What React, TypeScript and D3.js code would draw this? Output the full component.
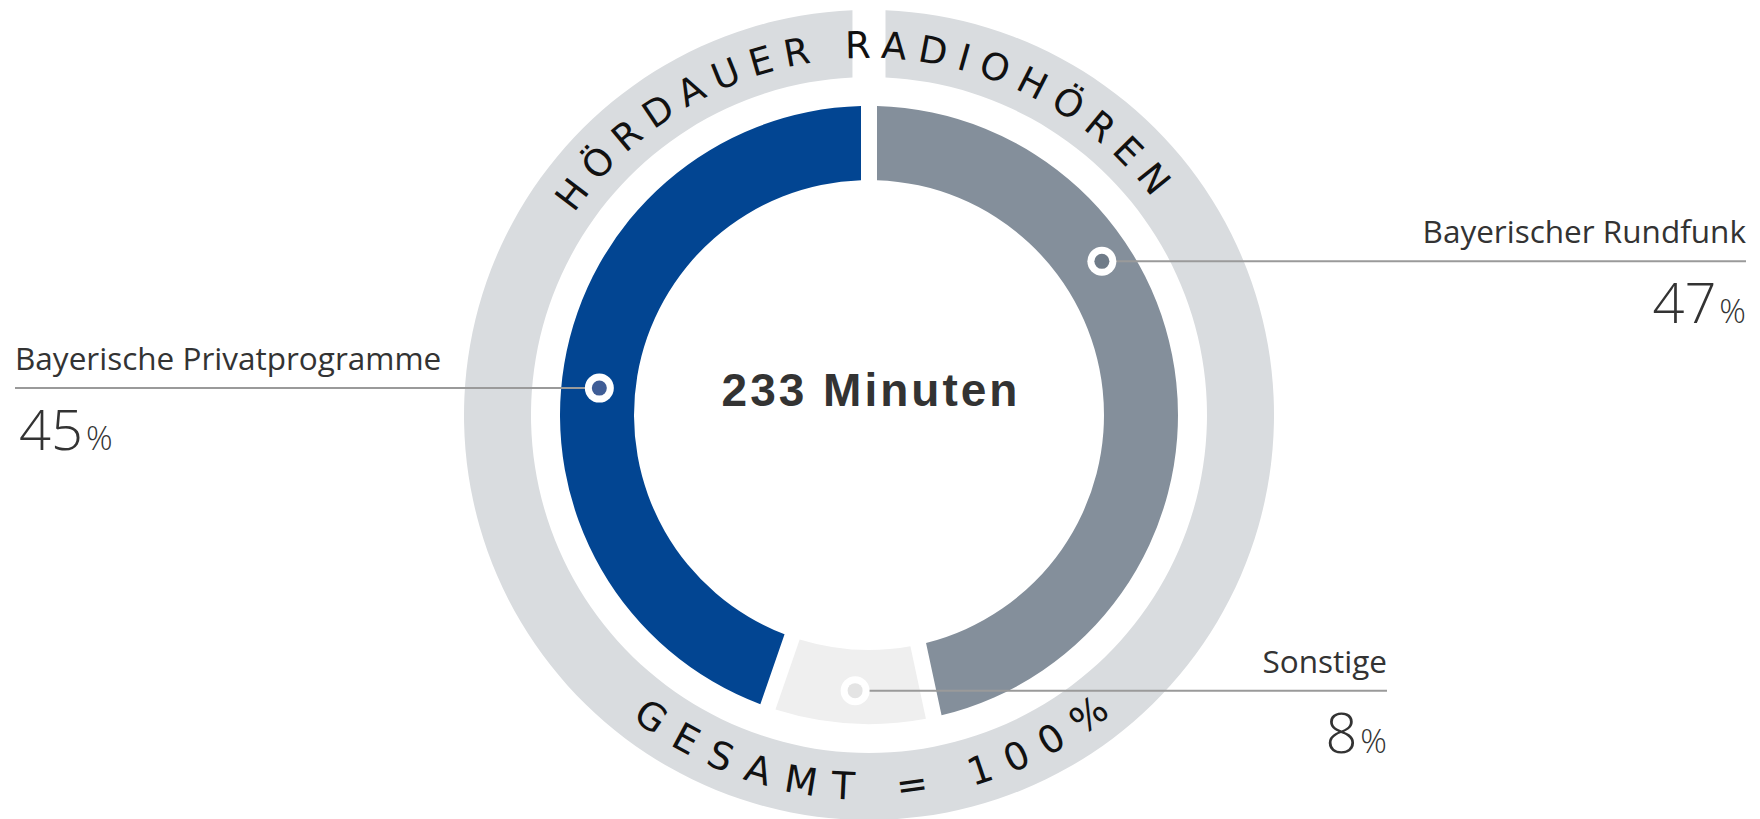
import React from 'react';
import * as d3 from 'd3';

// chart data
const categories = ['Bayerischer Rundfunk', 'Sonstige', 'Bayerische Privatprogramme'];
const shares = [47, 8, 45];
const centerLabel = '233 Minuten';
const ringTitle = 'HÖRDAUER RADIOHÖREN';
const ringFooter = 'GESAMT = 100%';

const sliceColors = ['#848f9b', '#efefef', '#024592'];
const dotColors = ['#6f7b88', '#e4e4e4', '#3f5d96'];

const W = 1760;
const H = 819;
const cx = 869;
const cy = 415;

// label layout, per slice (same order as categories)
const labelLayout = [
    { side: 'right', x: 1746, at: 0.337, r: 279 },
    { side: 'right', x: 1387, at: 0.48, r: 276 },
    { side: 'left', x: 15, at: 0.476, r: 271 },
];

const App = () => {
    const innerR = 235;
    const outerR = 309;

    const pie = d3.pie<number>()
        .sort(null)
        .value(d => d)
        .padAngle(16 / 290);

    const arcs = pie(shares);

    const arc = d3.arc<d3.PieArcDatum<number>>()
        .innerRadius(innerR)
        .outerRadius(outerR)
        .padRadius(290);

    // grey outer ring with gap at the top
    const ringPath = d3.arc()
        .innerRadius(338)
        .outerRadius(405)
        .startAngle(0)
        .endAngle(Math.PI * 2 - 0.0001)
        .padAngle(33 / 372)
        .padRadius(372)(null as any);

    const topR = 357;
    const botR = 385;
    const topLs = 11;
    const botLs = 16;
    const topPath = `M${cx - topR},${cy} A${topR},${topR} 0 0 1 ${cx + topR},${cy}`;
    const botPath = `M${cx - botR},${cy} A${botR},${botR} 0 0 0 ${cx + botR},${cy}`;
    // compensate the trailing letter spacing, so the text sits centred
    const topOffset = (Math.PI * topR) / 2 + topLs / 2 - 10;
    const botOffset = (Math.PI * botR) / 2 + botLs / 2 + 3;

    const labelFont = '"Open Sans", "DejaVu Sans", sans-serif';
    const ringFont = '"DejaVu Sans", Verdana, sans-serif';

    return (
        <svg width={W} height={H} style={{ position: 'absolute', left: 0, top: 0, background: '#fff' }}>
            <defs>
                <path id="ring-top" d={topPath} />
                <path id="ring-bottom" d={botPath} />
            </defs>

            <path d={ringPath as string} transform={`translate(${cx},${cy})`} fill="#d9dcdf" />

            <text fontFamily={ringFont} fontSize={37} letterSpacing={topLs} fill="#111">
                <textPath href="#ring-top" startOffset={topOffset} textAnchor="middle">{ringTitle}</textPath>
            </text>
            <text fontFamily={ringFont} fontSize={38} letterSpacing={botLs} fill="#111">
                <textPath href="#ring-bottom" startOffset={botOffset} textAnchor="middle">{ringFooter}</textPath>
            </text>

            <g transform={`translate(${cx},${cy})`}>
                {arcs.map((a, i) => (
                    <path key={categories[i]} d={arc(a) as string} fill={sliceColors[i]} />
                ))}
            </g>

            <text x={cx + 2} y={406} textAnchor="middle" fontFamily='"Liberation Sans", Arial, sans-serif'
                fontWeight="bold" fontSize={46} letterSpacing={3} fill="#333">{centerLabel}</text>

            {arcs.map((a, i) => {
                const lay = labelLayout[i];
                const ang = a.startAngle + lay.at * (a.endAngle - a.startAngle);
                const mx = cx + lay.r * Math.sin(ang);
                const my = cy - lay.r * Math.cos(ang);
                const right = lay.side === 'right';
                const anchor = right ? 'end' : 'start';
                return (
                    <g key={'lbl' + i}>
                        <line x1={mx} x2={lay.x} y1={my} y2={my} stroke="#9a9a9a" strokeWidth={2} />
                        <circle cx={mx} cy={my} r={14.5} fill="#fff" />
                        <circle cx={mx} cy={my} r={7.5} fill={dotColors[i]} />
                        <text x={lay.x} y={my - 18} textAnchor={anchor} fontFamily={labelFont}
                            fontSize={31.5} fill="#333">{categories[i]}</text>
                        <text x={lay.x + (right ? 0 : 4)} y={my + 62} textAnchor={anchor} fontFamily={labelFont}
                            fill="#333" fontWeight={350}>
                            <tspan fontSize={56}>{shares[i]}</tspan>
                            <tspan fontSize={33} dx={3}>%</tspan>
                        </text>
                    </g>
                );
            })}
        </svg>
    );
};

export default App;
